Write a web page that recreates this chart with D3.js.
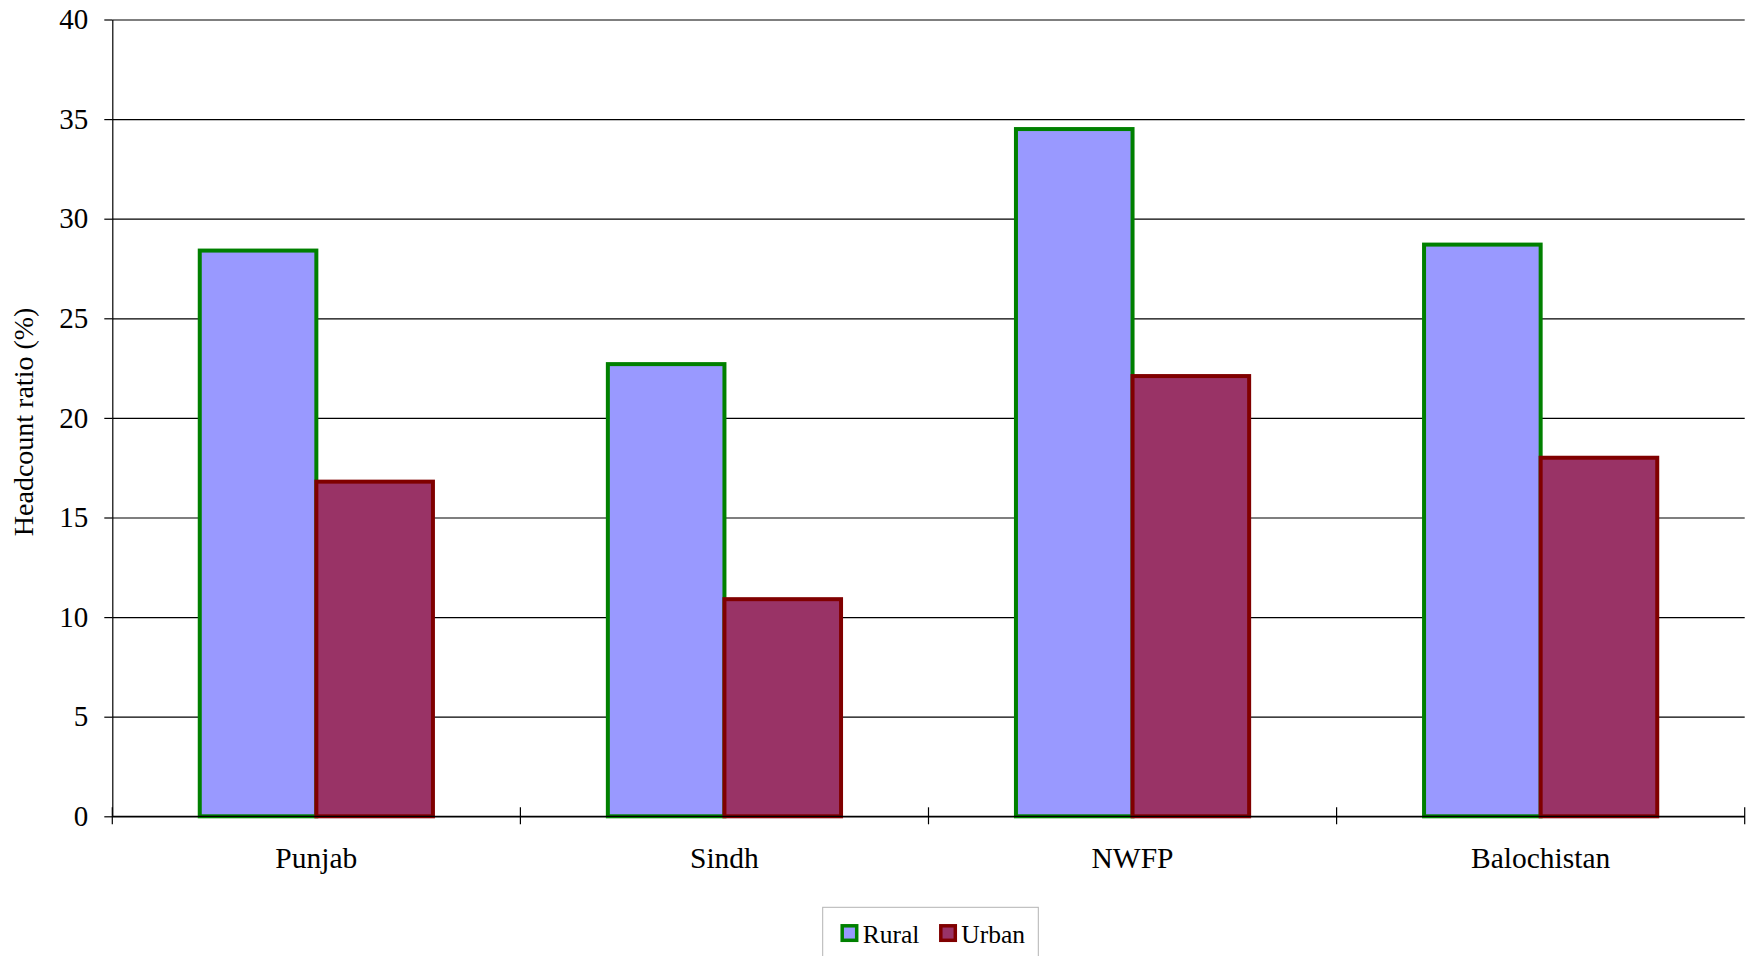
<!DOCTYPE html>
<html>
<head>
<meta charset="utf-8">
<script src="https://cdn.jsdelivr.net/npm/d3@7"></script>
<style>
  body { margin: 0; background: #fff; }
  text { font-family: "Liberation Serif", "Times New Roman", serif; fill: #000; }
</style>
</head>
<body>
<div id="chart"></div>
<script>
// chart data
const provinces = ["Punjab", "Sindh", "NWFP", "Balochistan"];
const seriesNames = ["Rural", "Urban"];
const ruralValues = [28.4, 22.7, 34.5, 28.7];
const urbanValues = [16.8, 10.9, 22.1, 18.0];
const yTicks = [0, 5, 10, 15, 20, 25, 30, 35, 40];

const svgWidth = 1749;
const svgHeight = 956;

const margin = { top: 19.5, right: 4.3, bottom: 139.7, left: 112.3 };
const width = svgWidth - margin.left - margin.right;
const height = svgHeight - margin.top - margin.bottom;

const fills = { Rural: "#9999ff", Urban: "#993366" };
const strokes = { Rural: "#008000", Urban: "#800000" };

const svg = d3.select("#chart")
  .append("svg")
  .attr("width", svgWidth)
  .attr("height", svgHeight);

const chartGroup = svg.append("g")
  .attr("transform", `translate(${margin.left}, ${margin.top})`);

// scales
const xScale = d3.scaleBand()
  .domain(provinces)
  .range([0, width])
  .paddingInner(0.4286)
  .paddingOuter(0.2143);

const xInner = d3.scaleBand()
  .domain(seriesNames)
  .range([0, xScale.bandwidth()]);

const yScale = d3.scaleLinear()
  .domain([0, 40])
  .range([height, 0]);

// gridlines
chartGroup.append("g")
  .call(d3.axisLeft(yScale).tickValues(yTicks).tickSize(-width).tickFormat(""))
  .call(g => g.select(".domain").remove())
  .selectAll("line")
  .attr("stroke", "#000")
  .attr("stroke-width", 1.2);

// y axis
const yAxis = chartGroup.append("g")
  .call(d3.axisLeft(yScale).tickValues(yTicks).tickSize(8).tickPadding(16).tickSizeOuter(0));
yAxis.attr("font-family", null);
yAxis.select(".domain").attr("stroke", "#000").attr("stroke-width", 1.2);
yAxis.selectAll("line").attr("stroke-width", 1.2);
yAxis.selectAll("text").style("font-size", "29px");

// bars
const rows = provinces.map((p, i) => ({ province: p, Rural: ruralValues[i], Urban: urbanValues[i] }));

const groups = chartGroup.selectAll("g.province")
  .data(rows)
  .enter()
  .append("g")
  .attr("class", "province")
  .attr("transform", d => `translate(${xScale(d.province)}, 0)`);

groups.selectAll("rect")
  .data(d => seriesNames.map(s => ({ series: s, value: d[s] })))
  .enter()
  .append("rect")
  .attr("x", d => xInner(d.series))
  .attr("y", d => yScale(d.value))
  .attr("width", xInner.bandwidth())
  .attr("height", d => height - yScale(d.value))
  .attr("fill", d => fills[d.series])
  .attr("stroke", d => strokes[d.series])
  .attr("stroke-width", 4);

// x axis line and category boundary ticks
chartGroup.append("line")
  .attr("x1", 0).attr("x2", width)
  .attr("y1", height).attr("y2", height)
  .attr("stroke", "#000")
  .attr("stroke-width", 1.2);

chartGroup.selectAll("line.xtick")
  .data(d3.range(provinces.length + 1))
  .enter()
  .append("line")
  .attr("class", "xtick")
  .attr("x1", i => i * xScale.step())
  .attr("x2", i => i * xScale.step())
  .attr("y1", height - 9)
  .attr("y2", height + 8)
  .attr("stroke", "#000")
  .attr("stroke-width", 1.2);

chartGroup.selectAll("text.xlabel")
  .data(provinces)
  .enter()
  .append("text")
  .attr("class", "xlabel")
  .attr("x", d => xScale(d) + xScale.bandwidth() / 2)
  .attr("y", height + 52)
  .attr("text-anchor", "middle")
  .style("font-size", "29.5px")
  .text(d => d);

// y axis title
svg.append("text")
  .attr("transform", `translate(33, ${margin.top + yScale(20) + 4}) rotate(-90)`)
  .attr("text-anchor", "middle")
  .style("font-size", "28px")
  .text("Headcount ratio (%)");

// legend
const legend = svg.append("g");
legend.append("rect")
  .attr("x", 822.7)
  .attr("y", 907.3)
  .attr("width", 215.6)
  .attr("height", 60)
  .attr("fill", "#fff")
  .attr("stroke", "#b3b3b3")
  .attr("stroke-width", 1);

const legendX = { Rural: 842.2, Urban: 940.8 };
seriesNames.forEach(s => {
  legend.append("rect")
    .attr("x", legendX[s])
    .attr("y", 925.8)
    .attr("width", 14.5)
    .attr("height", 14.5)
    .attr("fill", fills[s])
    .attr("stroke", strokes[s])
    .attr("stroke-width", 3.5);
  legend.append("text")
    .attr("x", legendX[s] + 20.5)
    .attr("y", 942.5)
    .style("font-size", "25.5px")
    .text(s);
});
</script>
</body>
</html>
